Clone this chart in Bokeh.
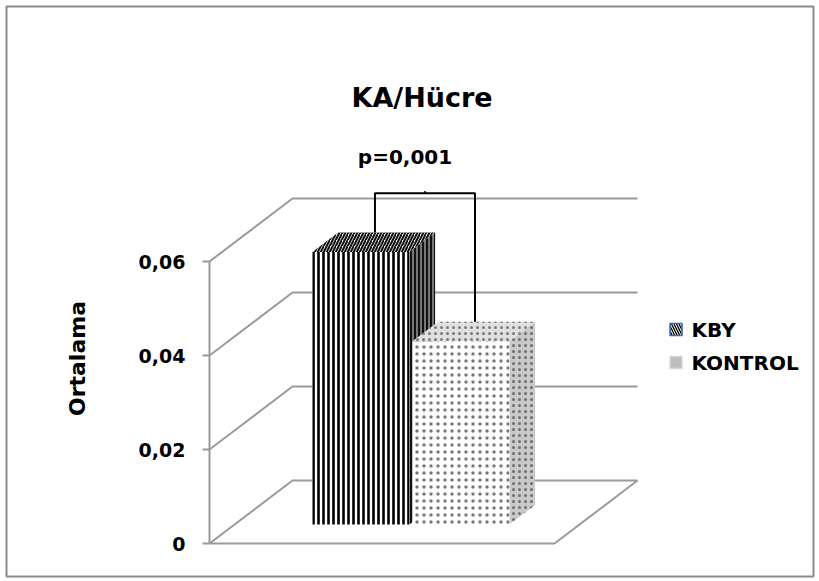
import math

from bokeh.plotting import figure
from bokeh.models import LinearAxis, FixedTicker, CustomJSTickFormatter, Range1d
from bokeh.core.properties import value
from bokeh.embed import file_html
from bokeh.resources import INLINE

# ---- chart data ----
chart_title = "KA/Hücre"
series_names = ["KBY", "KONTROL"]
series_means = [0.058, 0.039]
p_value_text = "p=0,001"
y_ticks = [0, 0.02, 0.04, 0.06]
y_title = "Ortalama"

# ---- 3-D look: oblique projection of the depth axis (z: 0 front .. 1 back) ----
DX, DY = 0.2406, 0.0134          # offset of the back wall, in x / value units
Z_FRONT, Z_BACK = 0.30, 0.61     # depth slab occupied by the columns
BAR_W, BAR_GAP, CAT_CENTER = 0.281, 0.009, 0.5115
BRACKET_Y = 0.0745

FONT = value("DejaVu Sans")
GRID_COLOR = "#9a9a9a"


def proj(x, y, z):
    return x + DX * z, y + DY * z


def face(points):
    xs, ys = zip(*[proj(*pt) for pt in points])
    return list(xs), list(ys)


p = figure(width=819, height=581,
           x_range=Range1d(-0.5884, 1.7507), y_range=Range1d(-0.00702, 0.11426),
           output_backend="svg", toolbar_location=None, title=None,
           x_axis_location=None, y_axis_location=None,
           min_border_left=6, min_border_right=6, min_border_top=6, min_border_bottom=5)
p.grid.visible = False
p.background_fill_color = "white"
p.border_fill_color = "white"
p.outline_line_color = "#8c8c8c"
p.outline_line_width = 2

# ---- walls: floor and back-wall gridlines ----
floor_xs, floor_ys = face([(0, 0, 0), (0, 0, 1), (1, 0, 1), (1, 0, 0), (0, 0, 0)])
p.line(floor_xs, floor_ys, line_color=GRID_COLOR, line_width=2)
for v in y_ticks[1:]:
    gx, gy = face([(0, v, 0), (0, v, 1), (1, v, 1)])
    p.line(gx, gy, line_color=GRID_COLOR, line_width=2)

# ---- columns ----
styles = [
    dict(front=dict(fill_color="white", hatch_pattern="vertical_line", hatch_color="black",
                    hatch_scale=5, hatch_weight=2.6),
         side=dict(fill_color="#777777", hatch_pattern="vertical_line", hatch_color="#111111",
                   hatch_scale=4, hatch_weight=2),
         top=dict(fill_color="#f2f2f2", hatch_pattern="right_diagonal_line", hatch_color="#111111",
                  hatch_scale=6, hatch_weight=2)),
    dict(front=dict(fill_color="white", hatch_pattern="dot", hatch_color="#7a7a7a",
                    hatch_scale=7, hatch_weight=1),
         side=dict(fill_color="#c9c9c9", hatch_pattern="dot", hatch_color="#6e6e6e",
                   hatch_scale=6, hatch_weight=1),
         top=dict(fill_color="#e0e0e0", hatch_pattern="dot", hatch_color="#7a7a7a",
                  hatch_scale=6, hatch_weight=1)),
]

bar_left = [CAT_CENTER - BAR_GAP / 2 - BAR_W, CAT_CENTER + BAR_GAP / 2]
for x0, v, st in zip(bar_left, series_means, styles):
    x1 = x0 + BAR_W
    fx, fy = face([(x0, 0, Z_FRONT), (x1, 0, Z_FRONT), (x1, v, Z_FRONT), (x0, v, Z_FRONT)])
    sx, sy = face([(x1, 0, Z_FRONT), (x1, 0, Z_BACK), (x1, v, Z_BACK), (x1, v, Z_FRONT)])
    tx, ty = face([(x0, v, Z_FRONT), (x1, v, Z_FRONT), (x1, v, Z_BACK), (x0, v, Z_BACK)])
    p.patch(sx, sy, line_color=None, **st["side"])
    p.patch(tx, ty, line_color=None, **st["top"])
    p.patch(fx, fy, line_color=None, **st["front"])

# ---- significance bracket between the two column tops ----
z_mid = (Z_FRONT + Z_BACK) / 2 + 0.015
leg_x = [proj(x0 + BAR_W / 2, 0, z_mid)[0] for x0 in bar_left]
leg_top = [proj(0, v, Z_BACK)[1] for v in series_means]
p.line([leg_x[0], leg_x[0], leg_x[1], leg_x[1]],
       [leg_top[0], BRACKET_Y, BRACKET_Y, leg_top[1]],
       line_color="black", line_width=2)
mid_x = (leg_x[0] + leg_x[1]) / 2
p.line([mid_x, mid_x], [BRACKET_Y, BRACKET_Y + 0.0005], line_color="black", line_width=1.5)

# ---- texts ----
p.text(x=[0.616], y=[0.09496], text=[chart_title], text_font=FONT, text_font_style="bold",
       text_font_size="27px", text_align="center", text_baseline="alphabetic", text_color="black")
p.text(x=[0.5667], y=[0.08234], text=[p_value_text], text_font=FONT, text_font_style="bold",
       text_font_size="20px", text_align="center", text_baseline="alphabetic", text_color="black")
p.text(x=[-0.3812], y=[0.03936], text=[y_title], angle=math.pi / 2, text_font=FONT,
       text_font_style="bold", text_font_size="22px", text_align="center", text_baseline="middle",
       text_color="black")

# ---- legend ----
legend_y = [0.04553, 0.03851]
p.rect(x=[1.3522], y=[legend_y[0]], width=12, height=12, width_units="screen", height_units="screen",
       fill_color="white", hatch_pattern="left_diagonal_line", hatch_color="black",
       hatch_scale=5, hatch_weight=1.3, line_color="#3a6db5", line_width=1.6)
p.rect(x=[1.3522], y=[legend_y[1]], width=12, height=12, width_units="screen", height_units="screen",
       fill_color="#bdbdbd", line_color="#d8d8d8", line_width=1.5)
p.text(x=[1.3971, 1.3971], y=legend_y, text=series_names, text_font=FONT, text_font_style="bold",
       text_font_size="20px", text_align="left", text_baseline="middle", text_color="black")

# ---- value axis on the front-left edge ----
yax = LinearAxis(fixed_location=0, bounds=(0, 0.06),
                 ticker=FixedTicker(ticks=y_ticks, minor_ticks=[]),
                 formatter=CustomJSTickFormatter(
                     code="return tick === 0 ? '0' : tick.toFixed(2).replace('.', ',')"))
yax.axis_line_color = GRID_COLOR
yax.axis_line_width = 2
yax.major_tick_line_color = GRID_COLOR
yax.major_tick_line_width = 2
yax.major_tick_out = 7
yax.major_tick_in = 0
yax.minor_tick_line_color = None
yax.major_label_standoff = 17
yax.major_label_text_font = "DejaVu Sans"
yax.major_label_text_font_style = "bold"
yax.major_label_text_font_size = "19px"
yax.major_label_text_color = "black"
p.add_layout(yax, "left")

open("out.html", "w").write(file_html(p, INLINE))
